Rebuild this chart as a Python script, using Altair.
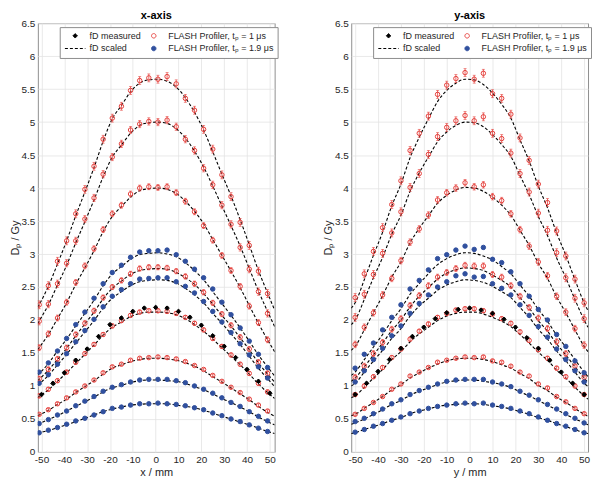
import altair as alt
import pandas as pd

FONT = "Liberation Sans"
S_FD = "fD measured"
S_R = "FLASH Profiler, tₚ = 1 μs"
S_SC = "fD scaled"
S_B = "FLASH Profiler, tₚ = 1.9 μs"
ORDER = [S_FD, S_SC, S_R, S_B]
RED = "#e5403b"
BLUE = "#30509e"
BLACK = "#000000"

x_ticks = [-50, -40, -30, -20, -10, 0, 10, 20, 30, 40, 50]
y_ticks = [0, 0.5, 1, 1.5, 2, 2.5, 3, 3.5, 4, 4.5, 5, 5.5, 6, 6.5]

# ---------------- x-axis panel ----------------
left_x = [-51, -47, -43, -39, -35, -31, -27, -23, -19, -15, -11, -7, -3, 1, 5, 9, 13, 17, 21, 25, 29, 33, 37, 41, 45, 49]
left_xc = [-51.6, -51, -47, -43, -39, -35, -31, -27, -23, -19, -15, -11, -7, -3, 1, 5, 9, 13, 17, 21, 25, 29, 33, 37, 41, 45, 49, 52.1]
left_fd_x = [-50, -45, -40, -35, -30, -25, -20, -15, -10, -5, 0, 5, 10, 15, 20, 25, 30, 35, 40, 45, 50]

lc1 = [2.19, 2.23, 2.51, 2.85, 3.20, 3.58, 3.94, 4.31, 4.71, 5.05, 5.25, 5.46, 5.59, 5.64, 5.65, 5.62, 5.53, 5.37, 5.15, 4.88, 4.55, 4.21, 3.88, 3.52, 3.14, 2.75, 2.41, 2.15]
lc2 = [1.94, 1.98, 2.23, 2.53, 2.83, 3.17, 3.49, 3.82, 4.17, 4.47, 4.65, 4.83, 4.95, 4.99, 5.00, 4.98, 4.90, 4.76, 4.56, 4.32, 4.03, 3.73, 3.43, 3.12, 2.78, 2.44, 2.13, 1.90]
lc3 = [1.55, 1.58, 1.78, 2.02, 2.26, 2.54, 2.79, 3.05, 3.34, 3.57, 3.72, 3.86, 3.96, 3.99, 4.00, 3.98, 3.92, 3.80, 3.65, 3.46, 3.22, 2.98, 2.74, 2.49, 2.22, 1.95, 1.70, 1.52]
lc4 = [1.17, 1.19, 1.34, 1.53, 1.71, 1.91, 2.10, 2.30, 2.52, 2.70, 2.81, 2.92, 2.99, 3.01, 3.02, 3.00, 2.96, 2.87, 2.75, 2.61, 2.43, 2.25, 2.07, 1.88, 1.68, 1.47, 1.29, 1.15]
lc5 = [1.08, 1.10, 1.24, 1.40, 1.57, 1.76, 1.94, 2.12, 2.32, 2.48, 2.59, 2.69, 2.75, 2.77, 2.78, 2.77, 2.72, 2.64, 2.54, 2.40, 2.24, 2.07, 1.91, 1.73, 1.55, 1.35, 1.18, 1.06]
lc6 = [1.01, 1.03, 1.16, 1.32, 1.48, 1.65, 1.82, 1.99, 2.18, 2.33, 2.43, 2.52, 2.58, 2.60, 2.61, 2.60, 2.56, 2.48, 2.38, 2.26, 2.10, 1.95, 1.79, 1.63, 1.45, 1.27, 1.11, 0.99]
lc7 = [0.82, 0.84, 0.94, 1.07, 1.20, 1.34, 1.48, 1.62, 1.77, 1.89, 1.97, 2.05, 2.10, 2.12, 2.12, 2.11, 2.08, 2.02, 1.93, 1.83, 1.71, 1.58, 1.45, 1.32, 1.18, 1.03, 0.90, 0.81]
lc8 = [0.55, 0.56, 0.63, 0.72, 0.80, 0.90, 0.99, 1.08, 1.18, 1.27, 1.32, 1.37, 1.40, 1.42, 1.42, 1.41, 1.39, 1.35, 1.30, 1.23, 1.14, 1.06, 0.97, 0.88, 0.79, 0.69, 0.60, 0.54]
lc9 = [0.42, 0.43, 0.49, 0.55, 0.62, 0.69, 0.76, 0.83, 0.91, 0.97, 1.01, 1.05, 1.08, 1.09, 1.09, 1.08, 1.07, 1.04, 0.99, 0.94, 0.88, 0.81, 0.75, 0.68, 0.61, 0.53, 0.46, 0.41]
lc10 = [0.28, 0.29, 0.32, 0.37, 0.41, 0.46, 0.51, 0.56, 0.61, 0.65, 0.68, 0.71, 0.72, 0.73, 0.73, 0.73, 0.71, 0.69, 0.67, 0.63, 0.59, 0.54, 0.50, 0.45, 0.41, 0.36, 0.31, 0.28]

lr1 = [2.23, 2.52, 2.89, 3.20, 3.61, 3.98, 4.33, 4.74, 5.06, 5.24, 5.48, 5.63, 5.67, 5.65, 5.69, 5.58, 5.36, 5.18, 4.89, 4.59, 4.20, 3.87, 3.48, 3.13, 2.74, 2.40]
lr2 = [1.98, 2.24, 2.55, 2.86, 3.20, 3.53, 3.85, 4.21, 4.47, 4.67, 4.88, 4.97, 5.01, 5.00, 5.03, 4.93, 4.74, 4.57, 4.30, 4.05, 3.74, 3.45, 3.10, 2.77, 2.43, 2.10]
lr3 = [1.58, 1.79, 2.03, 2.27, 2.57, 2.82, 3.08, 3.37, 3.61, 3.74, 3.91, 4.00, 4.02, 4.01, 4.02, 3.93, 3.80, 3.64, 3.43, 3.21, 2.98, 2.75, 2.51, 2.21, 1.96, 1.70]
lr4 = [1.11, 1.25, 1.41, 1.58, 1.78, 1.95, 2.14, 2.34, 2.50, 2.60, 2.70, 2.78, 2.80, 2.80, 2.79, 2.74, 2.66, 2.55, 2.42, 2.26, 2.09, 1.92, 1.74, 1.56, 1.36, 1.19]
lr5 = [0.85, 0.95, 1.08, 1.21, 1.36, 1.49, 1.63, 1.78, 1.91, 1.99, 2.07, 2.12, 2.14, 2.14, 2.13, 2.10, 2.04, 1.95, 1.85, 1.72, 1.60, 1.47, 1.33, 1.19, 1.04, 0.91]
lr6 = [0.57, 0.64, 0.73, 0.82, 0.91, 1.00, 1.09, 1.20, 1.29, 1.33, 1.39, 1.42, 1.43, 1.44, 1.43, 1.41, 1.37, 1.31, 1.25, 1.16, 1.07, 0.98, 0.90, 0.80, 0.71, 0.62]
lb1 = [1.21, 1.35, 1.53, 1.72, 1.93, 2.12, 2.33, 2.55, 2.72, 2.83, 2.95, 3.03, 3.05, 3.05, 3.06, 2.99, 2.89, 2.77, 2.64, 2.47, 2.27, 2.08, 1.88, 1.68, 1.48, 1.28]
lb2 = [1.04, 1.17, 1.33, 1.49, 1.67, 1.84, 2.01, 2.20, 2.36, 2.46, 2.55, 2.62, 2.63, 2.64, 2.64, 2.58, 2.51, 2.41, 2.28, 2.13, 1.97, 1.81, 1.64, 1.47, 1.29, 1.12]
lb3 = [0.43, 0.49, 0.56, 0.62, 0.70, 0.77, 0.84, 0.92, 0.98, 1.02, 1.06, 1.09, 1.10, 1.10, 1.10, 1.08, 1.05, 1.00, 0.95, 0.89, 0.82, 0.75, 0.69, 0.61, 0.54, 0.47]
lb4 = [0.29, 0.33, 0.37, 0.42, 0.47, 0.51, 0.56, 0.61, 0.66, 0.68, 0.71, 0.73, 0.73, 0.74, 0.73, 0.72, 0.70, 0.67, 0.64, 0.59, 0.55, 0.50, 0.46, 0.41, 0.36, 0.31]
lfd = [0.87, 1.04, 1.20, 1.39, 1.56, 1.75, 1.93, 2.03, 2.13, 2.18, 2.19, 2.18, 2.13, 2.04, 1.92, 1.76, 1.60, 1.43, 1.25, 1.07, 0.89]

left_red_err = [0.06, 0.055, 0.045, 0.04, 0.03, 0.02]
left_blue_err = [0.02, 0.02, 0.012, 0.01]
left_fd_err = 0.02

# ---------------- y-axis panel ----------------
right_x = [-50, -46, -42, -38, -34, -30, -26, -22, -18, -14, -10, -6, -2, 2, 6, 10, 14, 18, 22, 26, 30, 34, 38, 42, 46, 50]
right_xc = [-51.7, -50, -46, -42, -38, -34, -30, -26, -22, -18, -14, -10, -6, -2, 2, 6, 10, 14, 18, 22, 26, 30, 34, 38, 42, 46, 50, 51.7]
right_fd_x = [-50, -45, -40, -35, -30, -25, -20, -15, -10, -5, 0, 5, 10, 15, 20, 25, 30, 35, 40, 45, 50]

rc1 = [2.18, 2.26, 2.61, 2.98, 3.33, 3.73, 4.06, 4.46, 4.77, 5.05, 5.31, 5.48, 5.59, 5.65, 5.64, 5.57, 5.44, 5.27, 5.06, 4.73, 4.41, 4.03, 3.70, 3.32, 2.98, 2.61, 2.26, 2.14]
rc2 = [1.93, 2.00, 2.31, 2.64, 2.95, 3.30, 3.59, 3.95, 4.23, 4.47, 4.70, 4.85, 4.95, 5.00, 4.99, 4.93, 4.81, 4.66, 4.48, 4.19, 3.90, 3.57, 3.28, 2.94, 2.64, 2.31, 2.00, 1.89]
rc3 = [1.54, 1.60, 1.85, 2.11, 2.37, 2.65, 2.88, 3.17, 3.39, 3.58, 3.77, 3.89, 3.97, 4.01, 4.00, 3.95, 3.86, 3.74, 3.59, 3.36, 3.13, 2.86, 2.63, 2.35, 2.11, 1.85, 1.60, 1.52]
rc4 = [1.16, 1.21, 1.40, 1.59, 1.78, 1.99, 2.17, 2.39, 2.55, 2.70, 2.84, 2.93, 2.99, 3.02, 3.01, 2.97, 2.91, 2.81, 2.70, 2.53, 2.36, 2.16, 1.98, 1.77, 1.59, 1.40, 1.21, 1.14]
rc5 = [1.07, 1.12, 1.29, 1.47, 1.65, 1.84, 2.00, 2.20, 2.36, 2.49, 2.62, 2.71, 2.76, 2.79, 2.78, 2.75, 2.68, 2.60, 2.50, 2.34, 2.18, 1.99, 1.83, 1.64, 1.47, 1.29, 1.12, 1.05]
rc6 = [1.00, 1.04, 1.21, 1.38, 1.54, 1.72, 1.87, 2.06, 2.21, 2.33, 2.45, 2.53, 2.58, 2.61, 2.60, 2.57, 2.51, 2.43, 2.34, 2.19, 2.04, 1.86, 1.71, 1.53, 1.38, 1.21, 1.04, 0.99]
rc7 = [0.82, 0.85, 0.98, 1.12, 1.25, 1.40, 1.52, 1.67, 1.79, 1.89, 1.99, 2.06, 2.10, 2.12, 2.12, 2.09, 2.04, 1.98, 1.90, 1.78, 1.65, 1.51, 1.39, 1.24, 1.12, 0.98, 0.85, 0.80]
rc8 = [0.55, 0.57, 0.66, 0.75, 0.84, 0.94, 1.02, 1.12, 1.20, 1.27, 1.33, 1.38, 1.41, 1.42, 1.42, 1.40, 1.37, 1.32, 1.27, 1.19, 1.11, 1.01, 0.93, 0.83, 0.75, 0.66, 0.57, 0.54]
rc9 = [0.42, 0.44, 0.50, 0.57, 0.64, 0.72, 0.78, 0.86, 0.92, 0.97, 1.02, 1.06, 1.08, 1.09, 1.09, 1.07, 1.05, 1.02, 0.98, 0.91, 0.85, 0.78, 0.71, 0.64, 0.57, 0.50, 0.44, 0.41]
rc10 = [0.28, 0.29, 0.34, 0.38, 0.43, 0.48, 0.52, 0.58, 0.62, 0.65, 0.69, 0.71, 0.72, 0.73, 0.73, 0.72, 0.70, 0.68, 0.65, 0.61, 0.57, 0.52, 0.48, 0.43, 0.38, 0.34, 0.29, 0.28]

rr1 = [2.34, 2.70, 3.04, 3.40, 3.75, 4.11, 4.57, 4.83, 5.09, 5.42, 5.56, 5.66, 5.75, 5.65, 5.74, 5.43, 5.36, 5.12, 4.76, 4.42, 4.06, 3.78, 3.35, 2.97, 2.62, 2.26]
rr2 = [2.04, 2.39, 2.69, 3.01, 3.32, 3.64, 4.01, 4.22, 4.51, 4.78, 4.92, 5.02, 5.10, 5.02, 5.08, 4.83, 4.75, 4.53, 4.22, 3.94, 3.62, 3.36, 3.02, 2.64, 2.33, 2.02]
rr3 = [1.63, 1.89, 2.11, 2.38, 2.63, 2.90, 3.18, 3.38, 3.59, 3.82, 3.93, 4.00, 4.08, 4.02, 4.05, 3.87, 3.81, 3.61, 3.37, 3.12, 2.88, 2.67, 2.36, 2.12, 1.87, 1.62]
rr4 = [1.13, 1.30, 1.49, 1.66, 1.86, 2.02, 2.22, 2.37, 2.52, 2.65, 2.72, 2.78, 2.83, 2.82, 2.82, 2.69, 2.65, 2.52, 2.36, 2.19, 2.03, 1.87, 1.67, 1.49, 1.30, 1.13]
rr5 = [0.87, 1.00, 1.14, 1.28, 1.43, 1.56, 1.71, 1.83, 1.94, 2.04, 2.10, 2.15, 2.17, 2.17, 2.14, 2.09, 2.02, 1.95, 1.82, 1.69, 1.55, 1.42, 1.27, 1.14, 1.00, 0.87]
rr6 = [0.57, 0.66, 0.75, 0.84, 0.95, 1.03, 1.15, 1.21, 1.28, 1.36, 1.39, 1.42, 1.44, 1.43, 1.44, 1.38, 1.36, 1.30, 1.21, 1.15, 1.03, 0.97, 0.84, 0.76, 0.66, 0.58]
rb1 = [1.27, 1.48, 1.65, 1.85, 2.04, 2.23, 2.47, 2.60, 2.76, 2.93, 2.99, 3.06, 3.12, 3.07, 3.10, 2.92, 2.87, 2.73, 2.55, 2.36, 2.16, 2.00, 1.78, 1.60, 1.38, 1.20]
rb2 = [1.06, 1.23, 1.40, 1.57, 1.76, 1.91, 2.10, 2.25, 2.38, 2.50, 2.58, 2.67, 2.70, 2.65, 2.66, 2.55, 2.48, 2.38, 2.23, 2.07, 1.90, 1.74, 1.56, 1.40, 1.23, 1.06]
rb3 = [0.46, 0.51, 0.58, 0.65, 0.73, 0.79, 0.87, 0.93, 0.98, 1.03, 1.07, 1.09, 1.10, 1.10, 1.10, 1.06, 1.03, 0.99, 0.92, 0.86, 0.79, 0.72, 0.65, 0.58, 0.51, 0.44]
rb4 = [0.30, 0.34, 0.39, 0.43, 0.48, 0.53, 0.58, 0.62, 0.66, 0.69, 0.71, 0.73, 0.74, 0.73, 0.74, 0.71, 0.69, 0.66, 0.62, 0.58, 0.53, 0.48, 0.43, 0.39, 0.34, 0.29]
rfd = [0.87, 1.04, 1.22, 1.40, 1.57, 1.75, 1.89, 2.02, 2.11, 2.16, 2.18, 2.15, 2.10, 2.01, 1.89, 1.73, 1.57, 1.39, 1.21, 1.04, 0.87]

right_red_err = [0.06, 0.06, 0.05, 0.045, 0.03, 0.02]
right_blue_err = [0.02, 0.02, 0.012, 0.01]
right_fd_err = 0.02


def build_lines(xc, curves):
    rows = []
    for i, c in enumerate(curves):
        for xv, yv in zip(xc, c):
            rows.append({"x": xv, "y": yv, "curve": i, "series": S_SC})
    return pd.DataFrame(rows)


def build_points(groups):
    rows = []
    for gi, (xs, vals, err, series, col) in enumerate(groups):
        for xv, yv in zip(xs, vals):
            rows.append({"x": xv, "y": yv, "lo": yv - err, "hi": yv + err,
                         "series": series, "ecol": col, "g": gi})
    return pd.DataFrame(rows)


def build_caps(pts):
    a = pts[["x", "lo", "ecol"]].rename(columns={"lo": "cy"})
    b = pts[["x", "hi", "ecol"]].rename(columns={"hi": "cy"})
    return pd.concat([a, b], ignore_index=True)


# legend tokens: the dashed-line token is a long horizontal path
shape_scale = alt.Scale(domain=ORDER, range=["diamond", "M-4.6,0L4.6,0", "circle", "circle"])
fill_scale = alt.Scale(domain=ORDER, range=[BLACK, "transparent", "transparent", BLUE])
stroke_scale = alt.Scale(domain=ORDER, range=[BLACK, BLACK, RED, BLUE])
dash_scale = alt.Scale(domain=ORDER, range=[[1, 0], [3, 2], [1, 0], [1, 0]])

legend = alt.Legend(title=None, orient="none", legendX=22, legendY=4, columns=2,
                    fillColor="white", strokeColor="#8c8c8c", padding=4,
                    rowPadding=3, columnPadding=1, labelFontSize=9,
                    labelFont=FONT, labelColor="#262626", labelLimit=300,
                    symbolSize=20, symbolStrokeWidth=1, symbolOffset=7, labelOffset=10)

PANEL_W = 238
PANEL_H = 431


def panel(lines, pts, title, xtitle, xdom):
    xscale = alt.Scale(domain=xdom, nice=False, zero=False)
    yscale = alt.Scale(domain=[0, 6.5], nice=False, zero=False)
    xaxis = alt.Axis(values=x_ticks, title=xtitle, labelExpr="'' + datum.value",
                     labelPadding=3, titlePadding=2, labelFlush=False)
    yaxis = alt.Axis(values=y_ticks, title="Dₚ / Gy", labelExpr="'' + datum.value",
                     labelPadding=3, titlePadding=1)

    def X(f):
        return alt.X(f, scale=xscale, axis=xaxis)

    def Y(f):
        return alt.Y(f, scale=yscale, axis=yaxis)

    caps = build_caps(pts)
    rules = alt.Chart(pts).mark_rule(strokeWidth=0.8).encode(
        x=X("x:Q"), y=Y("lo:Q"), y2="hi:Q", color=alt.Color("ecol:N", scale=None))
    ticks = alt.Chart(caps).mark_tick(orient="horizontal", size=3, thickness=0.8).encode(
        x=X("x:Q"), y=Y("cy:Q"), color=alt.Color("ecol:N", scale=None))
    curves = alt.Chart(lines).mark_line(strokeWidth=1.1, clip=True, interpolate="monotone").encode(
        x=X("x:Q"), y=Y("y:Q"), detail="curve:N",
        stroke=alt.Stroke("series:N", scale=stroke_scale, legend=legend),
        strokeDash=alt.StrokeDash("series:N", scale=dash_scale, legend=legend))
    points = alt.Chart(pts).mark_point(opacity=1, strokeWidth=1, size=20, clip=True).encode(
        x=X("x:Q"), y=Y("y:Q"),
        shape=alt.Shape("series:N", scale=shape_scale, legend=legend),
        fill=alt.Fill("series:N", scale=fill_scale, legend=legend),
        stroke=alt.Stroke("series:N", scale=stroke_scale, legend=legend))
    return alt.layer(curves, rules, ticks, points).properties(
        width=PANEL_W, height=PANEL_H,
        title=alt.TitleParams(title, fontSize=11, fontWeight="bold", font=FONT,
                              color="#000000", offset=-3))


left_lines = build_lines(left_xc, [lc1, lc2, lc3, lc4, lc5, lc6, lc7, lc8, lc9, lc10])
left_pts = build_points([
    (left_x, lr1, left_red_err[0], S_R, RED),
    (left_x, lr2, left_red_err[1], S_R, RED),
    (left_x, lr3, left_red_err[2], S_R, RED),
    (left_x, lr4, left_red_err[3], S_R, RED),
    (left_x, lr5, left_red_err[4], S_R, RED),
    (left_x, lr6, left_red_err[5], S_R, RED),
    (left_x, lb1, left_blue_err[0], S_B, BLUE),
    (left_x, lb2, left_blue_err[1], S_B, BLUE),
    (left_x, lb3, left_blue_err[2], S_B, BLUE),
    (left_x, lb4, left_blue_err[3], S_B, BLUE),
    (left_fd_x, lfd, left_fd_err, S_FD, BLACK),
])
right_lines = build_lines(right_xc, [rc1, rc2, rc3, rc4, rc5, rc6, rc7, rc8, rc9, rc10])
right_pts = build_points([
    (right_x, rr1, right_red_err[0], S_R, RED),
    (right_x, rr2, right_red_err[1], S_R, RED),
    (right_x, rr3, right_red_err[2], S_R, RED),
    (right_x, rr4, right_red_err[3], S_R, RED),
    (right_x, rr5, right_red_err[4], S_R, RED),
    (right_x, rr6, right_red_err[5], S_R, RED),
    (right_x, rb1, right_blue_err[0], S_B, BLUE),
    (right_x, rb2, right_blue_err[1], S_B, BLUE),
    (right_x, rb3, right_blue_err[2], S_B, BLUE),
    (right_x, rb4, right_blue_err[3], S_B, BLUE),
    (right_fd_x, rfd, right_fd_err, S_FD, BLACK),
])

left = panel(left_lines, left_pts, "x-axis", "x / mm", [-51.6, 52.1])
right = panel(right_lines, right_pts, "y-axis", "y / mm", [-51.7, 51.7])

chan = dict(x="independent", y="independent", shape="independent", fill="independent",
            stroke="independent", strokeDash="independent")
lchan = dict(shape="independent", fill="independent", stroke="independent",
             strokeDash="independent")

chart = alt.hconcat(left, right, spacing=77, bounds="flush").resolve_scale(**chan).resolve_legend(**lchan).properties(
    padding={"left": 0, "top": 0, "right": 0, "bottom": 0}
).configure_view(stroke="#8f8f8f", strokeWidth=1).configure_axis(
    grid=True, gridColor="#e3e3e3", gridWidth=0.8, domain=False, ticks=False,
    labelFont=FONT, labelFontSize=10, labelColor="#262626",
    titleFont=FONT, titleFontSize=11, titleColor="#262626", titleFontWeight="normal"
)

chart.save("out.html", embed_options={"renderer": "svg", "actions": False})
